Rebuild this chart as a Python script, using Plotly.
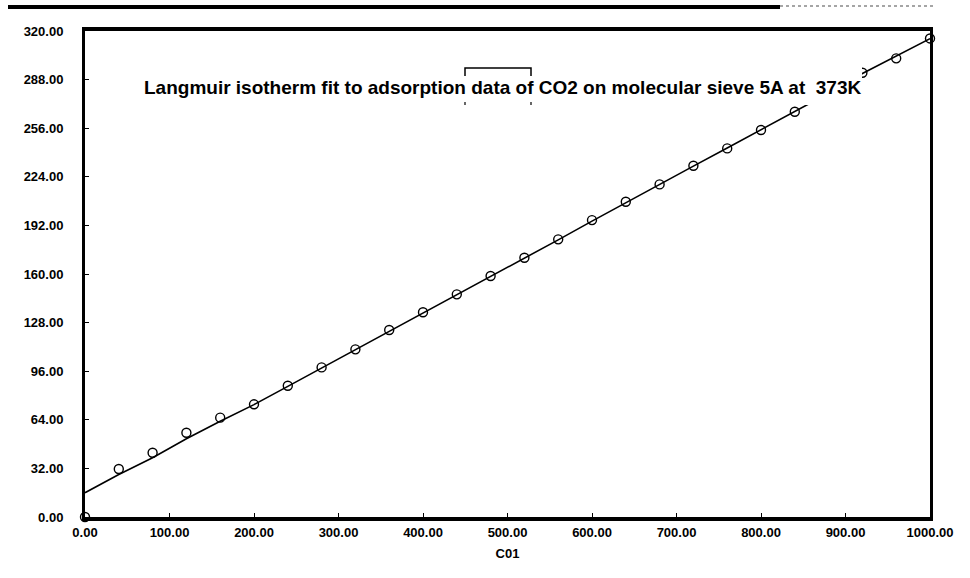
import plotly.graph_objects as go

# Data
conc = [0, 40, 80, 120, 160, 200, 240, 280, 320, 360, 400, 440, 480, 520,
        560, 600, 640, 680, 720, 760, 800, 840, 920, 960, 1000]
uptake = [0.0, 31.6, 42.3, 55.5, 65.4, 74.2, 86.4, 98.5, 110.4, 123.1, 134.8,
          146.6, 158.7, 170.7, 182.8, 195.5, 207.6, 219.0, 231.3, 242.7,
          254.8, 266.8, 292.5, 302.0, 315.1]

fit_x = [0, 40, 80, 120, 160, 200, 240, 280, 320, 360, 400, 440, 480, 520,
         560, 600, 640, 680, 720, 760, 800, 840, 880, 920, 960, 1000]
fit_y = [16.0, 28.0, 39.0, 51.5, 63.0, 74.0, 86.0, 98.0, 110.0, 122.5, 134.5,
         146.5, 158.5, 170.5, 182.5, 194.8, 207.0, 219.0, 231.0, 243.0, 255.0,
         267.0, 279.0, 292.0, 303.5, 315.0]

x_ticks = [0, 100, 200, 300, 400, 500, 600, 700, 800, 900, 1000]
y_ticks = [0, 32, 64, 96, 128, 160, 192, 224, 256, 288, 320]

title_text = "Langmuir isotherm fit to adsorption data of CO2 on molecular sieve 5A at  373K"
x_title = "C01"

FONT = "Liberation Sans, Arial, sans-serif"

fig = go.Figure()
fig.add_trace(go.Scatter(x=fit_x, y=fit_y, mode="lines",
                         line=dict(color="black", width=1.6),
                         showlegend=False, cliponaxis=False))
fig.add_trace(go.Scatter(x=conc, y=uptake, mode="markers",
                         marker=dict(symbol="circle-open", size=9,
                                     color="black", line=dict(width=1.4)),
                         showlegend=False, cliponaxis=False))

fig.update_xaxes(range=[0, 1000], tickvals=x_ticks,
                 ticktext=[f"{v:.2f}" for v in x_ticks],
                 showline=True, linecolor="black", linewidth=4, mirror=True,
                 ticks="inside", ticklen=4, tickcolor="black", tickwidth=1,
                 showgrid=False, zeroline=False,
                 tickfont=dict(family=FONT, size=13, color="black", weight="bold"),
                 title=dict(text=x_title,
                            font=dict(family=FONT, size=13, color="black", weight="bold"),
                            standoff=11))
fig.update_yaxes(range=[0, 320], tickvals=y_ticks,
                 ticktext=[f"{v:.2f}" for v in y_ticks],
                 showline=True, linecolor="black", linewidth=3, mirror=True,
                 ticks="inside", ticklen=4, tickcolor="black", tickwidth=1,
                 showgrid=False, zeroline=False, ticklabelstandoff=16,
                 tickfont=dict(family=FONT, size=13, color="black", weight="bold"))


def px(xp):
    return (xp - 85) / 845.0


def py(yp):
    return (517 - yp) / 486.0


# white box behind the title (hides part of the curve, as in the reference)
fig.add_shape(type="rect", xref="paper", yref="paper", layer="above",
              x0=px(140), x1=px(862), y0=py(105), y1=py(62),
              fillcolor="white", line=dict(width=0))
# scan artifacts: bracket above "data of" and dark page border at top
fig.add_shape(type="path", xref="paper", yref="paper", layer="above",
              path=f"M {px(465)},{py(76)} L {px(465)},{py(68)} L {px(531)},{py(68)} L {px(531)},{py(76)}",
              line=dict(color="black", width=1.5))
for bx in (465, 531):
    fig.add_shape(type="line", xref="paper", yref="paper", layer="above",
                  x0=px(bx), x1=px(bx), y0=py(102), y1=py(105),
                  line=dict(color="black", width=1.2))
fig.add_shape(type="line", xref="paper", yref="paper",
              x0=px(8), x1=px(780), y0=py(7), y1=py(7),
              line=dict(color="black", width=4))
fig.add_shape(type="line", xref="paper", yref="paper",
              x0=px(780), x1=px(935), y0=py(6), y1=py(6),
              line=dict(color="#888888", width=1.5, dash="dot"))

fig.add_annotation(text=title_text, xref="paper", yref="paper",
                   x=px(502), y=py(88), xanchor="center", yanchor="middle",
                   showarrow=False,
                   font=dict(family=FONT, size=19, color="black", weight="bold"))

fig.update_layout(width=970, height=578,
                  margin=dict(l=85, r=40, t=31, b=61),
                  paper_bgcolor="white", plot_bgcolor="white",
                  font=dict(family=FONT, color="black"))

fig.write_html("out.html")
